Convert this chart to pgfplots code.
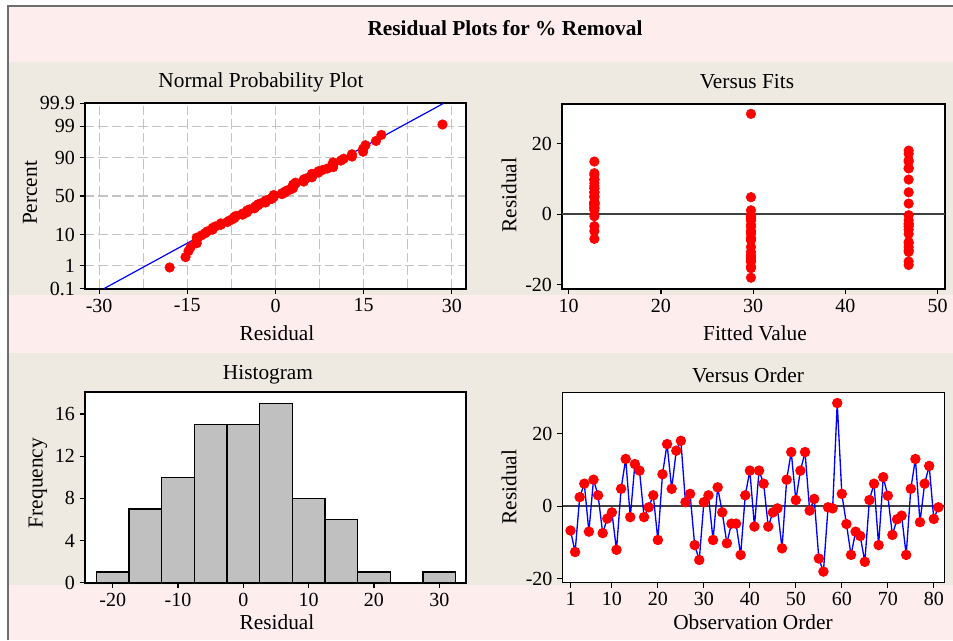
\documentclass[border=0pt]{standalone}
\usepackage{fontspec}
\setmainfont{Liberation Serif}
\usepackage{pgfplots}
\pgfplotsset{compat=1.18}

\definecolor{pinkbg}{RGB}{253,237,236}
\definecolor{beigebg}{RGB}{238,234,226}
\definecolor{histgray}{RGB}{192,192,192}
\definecolor{gridgray}{RGB}{195,195,195}
\definecolor{zeroline}{RGB}{64,64,64}
\definecolor{frameline}{RGB}{110,110,110}

\pgfplotsset{
  mtb/.style={
    scale only axis,
    axis background/.style={fill=white},
    axis line style={line width=1.3pt},
    tick align=outside,
    xtick pos=left, ytick pos=left,
    major tick length=4pt,
    tick style={black, line width=0.9pt},
    tick label style={font=\fontsize{15}{17}\selectfont},
    /pgf/number format/assume math mode=true,
  },
  dots/.style={only marks, mark=*, mark size=3.6pt, mark options={fill=red, draw=red}},
}

\begin{document}
\begin{tikzpicture}
% ---- background panels (pixel units, y down from the top edge)
\begin{scope}[x=0.75pt, y=-0.75pt, yshift=480pt]
  \useasboundingbox (0,0) rectangle (953,640);
  \fill[white] (0,0) rectangle (953,640);
  \fill[pinkbg] (8,6) rectangle (953,640);
  \fill[beigebg] (9,62) rectangle (953,295);
  \fill[beigebg] (9,353) rectangle (953,585);
  \draw[frameline, line width=1.1pt] (8,640) -- (8,6) -- (953,6);
\end{scope}

% ---- Normal probability plot
\begin{axis}[mtb,
  at={(63.75pt,263.475pt)}, anchor=south west,
  width=285.75pt, height=139.05pt,
  xmin=-32.4, xmax=32.4, ymin=-3.09, ymax=3.09,
  xtick={-30,-15,0,15,30},
  minor xtick={-22.5,-7.5,7.5,22.5},
  minor tick length=0pt,
  ytick={-3.090,-2.326,-1.282,0,1.282,2.326,3.090},
  yticklabels={0.1,1,10,50,90,99,99.9},
  xmajorgrids, xminorgrids, ymajorgrids,
  grid style={gridgray, line width=0.9pt, dash pattern=on 7pt off 3pt},
  minor grid style={gridgray, line width=0.9pt, dash pattern=on 7pt off 3pt},
]
\addplot[blue, line width=0.9pt] coordinates {(-29.2,-3.09) (28.6,3.09)};
\addplot[dots] table {
x y
-18.0 -2.383
-15.3 -2.036
-14.8 -1.836
-14.4 -1.691
-13.4 -1.574
-13.4 -1.476
-13.4 -1.390
-12.6 -1.313
-12.0 -1.243
-11.6 -1.179
-10.7 -1.120
-10.7 -1.064
-10.2 -1.011
-9.3 -0.961
-9.3 -0.913
-8.2 -0.867
-7.9 -0.823
-7.4 -0.781
-7.0 -0.740
-7.0 -0.700
-6.7 -0.661
-5.6 -0.623
-5.6 -0.586
-4.9 -0.550
-4.8 -0.515
-4.8 -0.480
-4.4 -0.445
-3.6 -0.412
-3.5 -0.378
-3.4 -0.345
-3.0 -0.313
-3.0 -0.281
-2.6 -0.249
-1.7 -0.217
-1.7 -0.186
-1.7 -0.155
-1.2 -0.124
-0.6 -0.093
-0.6 -0.062
-0.3 -0.031
-0.3 0.000
-0.3 0.031
1.1 0.062
1.1 0.093
1.7 0.124
1.7 0.155
2.0 0.186
2.5 0.217
2.9 0.249
3.0 0.281
3.0 0.313
3.0 0.345
3.0 0.378
3.4 0.412
3.4 0.445
4.8 0.480
4.8 0.515
4.8 0.550
5.2 0.586
6.2 0.623
6.2 0.661
6.2 0.700
6.2 0.740
7.3 0.781
7.3 0.823
8.0 0.867
8.8 0.913
9.8 0.961
9.8 1.011
9.8 1.064
9.8 1.120
11.1 1.179
11.6 1.243
13.0 1.313
13.0 1.390
14.9 1.476
14.9 1.574
15.3 1.691
17.1 1.836
18.0 2.036
28.4 2.383
};
\end{axis}

% ---- Versus fits
\begin{axis}[mtb,
  at={(421.5pt,263.25pt)}, anchor=south west,
  width=287.25pt, height=138.75pt,
  xmin=9.27, xmax=50.8, ymin=-21.2, ymax=31.2,
  xtick={10,20,30,40,50}, ytick={-20,0,20},
]
\addplot[zeroline, line width=1.1pt] coordinates {(9.27,0) (50.8,0)};
\addplot[dots] table {
x y
12.78 14.9
12.78 11.6
12.78 11.1
12.78 9.8
12.78 9.8
12.78 9.8
12.78 8.8
12.78 8.0
12.78 7.3
12.78 7.3
12.78 6.2
12.78 6.2
12.78 6.2
12.78 5.2
12.78 4.8
12.78 4.8
12.78 3.4
12.78 3.4
12.78 3.0
12.78 3.0
12.78 3.0
12.78 2.9
12.78 2.5
12.78 2.0
12.78 1.7
12.78 1.7
12.78 1.1
12.78 -0.6
12.78 -3.4
12.78 -4.8
12.78 -7.0
};
\addplot[dots] table {
x y
29.76 28.4
29.76 4.8
29.76 1.1
29.76 -0.3
29.76 -0.3
29.76 -0.6
29.76 -1.2
29.76 -1.7
29.76 -1.7
29.76 -3.0
29.76 -3.6
29.76 -4.8
29.76 -4.9
29.76 -5.6
29.76 -6.7
29.76 -7.0
29.76 -7.4
29.76 -9.3
29.76 -10.7
29.76 -11.6
29.76 -12.0
29.76 -12.6
29.76 -13.4
29.76 -13.4
29.76 -14.8
29.76 -15.3
29.76 -18.0
};
\addplot[dots] table {
x y
46.86 18.0
46.86 17.1
46.86 15.3
46.86 14.9
46.86 13.0
46.86 13.0
46.86 9.8
46.86 6.2
46.86 3.0
46.86 -0.3
46.86 -1.7
46.86 -2.6
46.86 -3.0
46.86 -3.5
46.86 -4.4
46.86 -5.6
46.86 -7.9
46.86 -8.2
46.86 -9.3
46.86 -10.2
46.86 -10.7
46.86 -13.4
46.86 -14.4
};
\end{axis}

% ---- Histogram
\begin{axis}[mtb,
  at={(63.75pt,42.975pt)}, anchor=south west,
  width=285.75pt, height=142.8pt,
  xmin=-24.24, xmax=34.09, ymin=0, ymax=18.06,
  xtick={-20,-10,0,10,20,30}, ytick={0,4,8,12,16},
]
\addplot[ybar, bar width=5, bar shift=0pt, fill=histgray, draw=black, line width=1.1pt]
coordinates {(-20,1) (-15,7) (-10,10) (-5,15) (0,15) (5,17) (10,8) (15,6) (20,1) (25,0) (30,1)};
\end{axis}

% ---- Versus order
\begin{axis}[mtb,
  at={(421.875pt,43.125pt)}, anchor=south west,
  width=286.5pt, height=142.5pt,
  xmin=-0.74, xmax=82.33, ymin=-21.0, ymax=31.3,
  xtick={1,10,20,30,40,50,60,70,80}, ytick={-20,0,20},
]
\addplot[zeroline, line width=1.1pt] coordinates {(-0.74,0) (82.33,0)};
\addplot[blue, line width=1pt, mark=*, mark size=3.4pt, mark options={fill=red, draw=red}] table {
x y
1 -6.7
2 -12.6
3 2.5
4 6.2
5 -7.0
6 7.3
7 3.0
8 -7.4
9 -3.4
10 -1.7
11 -12.0
12 4.8
13 13.0
14 -3.0
15 11.6
16 9.8
17 -3.0
18 -0.3
19 3.0
20 -9.3
21 8.8
22 17.1
23 4.8
24 15.3
25 18.0
26 1.1
27 3.4
28 -10.7
29 -14.8
30 1.1
31 3.0
32 -9.3
33 5.2
34 -1.7
35 -10.2
36 -4.8
37 -4.8
38 -13.4
39 3.0
40 9.8
41 -5.6
42 9.8
43 6.2
44 -5.6
45 -1.7
46 -0.6
47 -11.6
48 7.3
49 14.9
50 1.7
51 9.8
52 14.9
53 -1.2
54 2.0
55 -14.4
56 -18.0
57 -0.3
58 -0.6
59 28.4
60 3.4
61 -4.9
62 -13.4
63 -7.0
64 -8.2
65 -15.3
66 1.7
67 6.2
68 -10.7
69 8.0
70 2.9
71 -7.9
72 -3.6
73 -2.6
74 -13.4
75 4.8
76 13.0
77 -4.4
78 6.2
79 11.1
80 -3.5
81 -0.3
};
\end{axis}

% ---- titles and axis labels (pixel units, y down from the top edge)
\begin{scope}[x=0.75pt, y=-0.75pt, yshift=480pt, every node/.style={font=\fontsize{16}{19}\selectfont, inner sep=0pt}]
  \node[font=\fontsize{16}{19}\selectfont\bfseries] at (505,28) {Residual Plots for \% Removal};
  \node at (261,82) {Normal Probability Plot};
  \node at (277,333) {Residual};
  \node[rotate=90] at (30,193) {Percent};
  \node at (747,82) {Versus Fits};
  \node at (755,333) {Fitted Value};
  \node[rotate=90] at (509,195) {Residual};
  \node at (268,375) {Histogram};
  \node at (277,622) {Residual};
  \node[rotate=90] at (38,483) {Frequency};
  \node at (748,375) {Versus Order};
  \node at (753,622) {Observation Order};
  \node[rotate=90] at (509,487) {Residual};
\end{scope}
\end{tikzpicture}
\end{document}
